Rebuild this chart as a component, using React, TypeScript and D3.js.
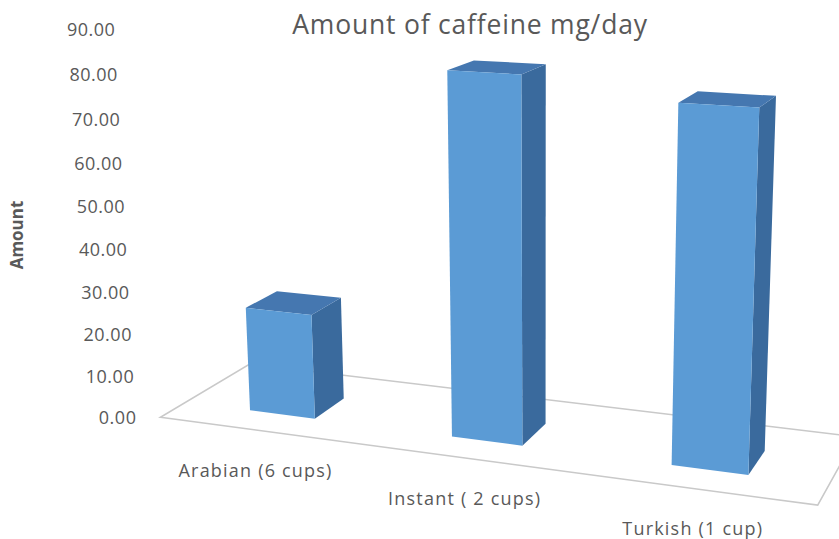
import * as d3 from "d3";

const categories = ["Arabian (6 cups)", "Instant ( 2 cups)", "Turkish (1 cup)"];
const values = [25, 83, 79];
const yTicks = [0, 10, 20, 30, 40, 50, 60, 70, 80, 90];
const title = "Amount of caffeine mg/day";
const yTitle = "Amount";

const width = 839;
const height = 539;

// 3D box (world units) and camera
const W = 692;
const D = 190;
const H = 405;
const theta = (20 * Math.PI) / 180;
const phi = (14 * Math.PI) / 180;
const dist = 1800;
const tx = -40; // box sits a bit left of the line of sight
const cx = 541.7;
const cy = 235.6;

const project = (X: number, Y: number, Z: number): [number, number] => {
  const xc = X * Math.cos(theta) + Z * Math.sin(theta) + tx;
  const zc = -X * Math.sin(theta) + Z * Math.cos(theta);
  const y1 = Y * Math.cos(phi) + zc * Math.sin(phi);
  const z1 = -Y * Math.sin(phi) + zc * Math.cos(phi);
  const k = dist / (dist + z1);
  return [cx + xc * k, cy - y1 * k];
};

const x = d3
  .scaleBand<string>()
  .domain(categories)
  .range([-W / 2, W / 2])
  .paddingInner(0.67)
  .paddingOuter(0.335);

const y = d3.scaleLinear().domain([0, 90]).range([-H / 2, H / 2]);

const barDepth = 68;
const barZ = -10;
const poly = (pts: [number, number, number][]) =>
  d3.line()(pts.map((p) => project(p[0], p[1], p[2])))! + "Z";

const fmt = d3.format(".2f");
const font = "'Open Sans', sans-serif";
const gray = "#595959";

export default function App() {
  const y0 = y(0);
  const z0 = -D / 2;
  const z1 = D / 2;
  const floor = poly([
    [-W / 2, y0, z0],
    [W / 2, y0, z0],
    [W / 2, y0, z1],
    [-W / 2, y0, z1],
  ]);

  return (
    <svg
      width={width}
      height={height}
      style={{ position: "absolute", left: 0, top: 0, background: "#fff" }}
    >
      <text
        x={470}
        y={34}
        textAnchor="middle"
        fontFamily={font}
        fontSize={26.5}
        letterSpacing={0.8}
        fill={gray}
      >
        {title}
      </text>
      <text
        transform="translate(23,235) rotate(-90)"
        textAnchor="middle"
        fontFamily={font}
        fontSize={17}
        fontWeight="bold"
        fill={gray}
      >
        {yTitle}
      </text>
      {yTicks.map((t) => {
        const [px, py] = project(-W / 2, y(t), z0);
        return (
          <text
            key={t}
            x={px - 24}
            y={py}
            dy="0.35em"
            textAnchor="end"
            fontFamily={font}
            fontSize={18}
            letterSpacing={0.5}
            fill={gray}
          >
            {fmt(t)}
          </text>
        );
      })}
      <path d={floor} fill="none" stroke="#c9c9c9" strokeWidth={1.6} />
      {categories.map((c, i) => {
        const xa = x(c)!;
        const xb = xa + x.bandwidth();
        const ya = y(0);
        const yb = y(values[i]);
        const za = barZ - barDepth / 2;
        const zb = barZ + barDepth / 2;
        return (
          <g key={c}>
            <path
              d={poly([
                [xb, ya, za],
                [xb, ya, zb],
                [xb, yb, zb],
                [xb, yb, za],
              ])}
              fill="#3a6a9d"
            />
            <path
              d={poly([
                [xa, yb, za],
                [xb, yb, za],
                [xb, yb, zb],
                [xa, yb, zb],
              ])}
              fill="#4577b0"
            />
            <path
              d={poly([
                [xa, ya, za],
                [xb, ya, za],
                [xb, yb, za],
                [xa, yb, za],
              ])}
              fill="#5b9bd5"
            />
          </g>
        );
      })}
      {categories.map((c) => {
        const [px, py] = project(x(c)! + x.bandwidth() / 2, y(0), z0);
        return (
          <text
            key={c}
            x={px - 3}
            y={py + 40}
            dy="0.35em"
            textAnchor="middle"
            fontFamily={font}
            fontSize={18}
            letterSpacing={1.2}
            fill={gray}
          >
            {c}
          </text>
        );
      })}
    </svg>
  );
}
